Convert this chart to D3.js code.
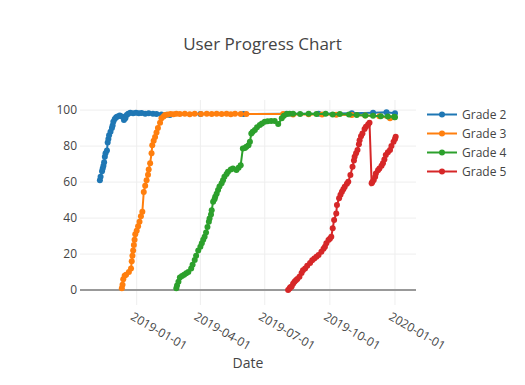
<!DOCTYPE html>
<html lang="en">
<head>
<meta charset="UTF-8">
<title>User Progress Chart</title>
<script src="https://d3js.org/d3.v7.min.js"></script>
<style>
    body {
        margin: 0;
        background-color: white;
    }

    #chart text {
        font-family: "Open Sans", verdana, arial, sans-serif;
        fill: #444;
    }
</style>
</head>
<body>
<svg id="chart" width="525" height="385"></svg>
<script>
    // values
    const grade2 = [
        ['2018-11-10', 61], ['2018-11-11', 63], ['2018-11-13', 66], ['2018-11-14', 67.5],
        ['2018-11-15', 69], ['2018-11-16', 71], ['2018-11-17', 74], ['2018-11-18', 76],
        ['2018-11-20', 77.5], ['2018-11-21', 82], ['2018-11-22', 84], ['2018-11-23', 86],
        ['2018-11-25', 88], ['2018-11-27', 90], ['2018-11-28', 91.5], ['2018-11-29', 93.5],
        ['2018-12-01', 95], ['2018-12-03', 96], ['2018-12-05', 96.5], ['2018-12-08', 97],
        ['2018-12-11', 96.5], ['2018-12-14', 94.5], ['2018-12-16', 95.5], ['2018-12-18', 97.2],
        ['2018-12-20', 98], ['2018-12-23', 98.5], ['2018-12-27', 98.3], ['2018-12-31', 98.5],
        ['2019-01-04', 98.2], ['2019-01-08', 98.4], ['2019-01-13', 98], ['2019-01-18', 98.2],
        ['2019-01-24', 97.9], ['2019-01-29', 97.8], ['2019-02-05', 97.6], ['2019-02-12', 97.4],
        ['2019-02-17', 97.2], ['2019-04-01', 97.8], ['2019-06-01', 97.8], ['2019-08-01', 98],
        ['2019-09-15', 98], ['2019-11-01', 98.2], ['2019-12-01', 98.5], ['2019-12-20', 98.8],
        ['2020-01-01', 98.3]
    ];

    const grade3 = [
        ['2018-12-11', 1], ['2018-12-12', 3], ['2018-12-13', 6], ['2018-12-15', 8],
        ['2018-12-17', 8.5], ['2018-12-21', 10], ['2018-12-24', 12], ['2018-12-25', 16],
        ['2018-12-26', 19], ['2018-12-27', 22], ['2018-12-28', 25], ['2018-12-29', 28],
        ['2018-12-30', 31], ['2019-01-01', 33], ['2019-01-03', 35.5], ['2019-01-05', 38],
        ['2019-01-07', 41], ['2019-01-09', 43.5], ['2019-01-11', 54.5], ['2019-01-13', 58],
        ['2019-01-15', 61], ['2019-01-17', 64], ['2019-01-18', 67], ['2019-01-20', 70.5],
        ['2019-01-22', 76], ['2019-01-23', 80.5], ['2019-01-25', 83], ['2019-01-27', 85],
        ['2019-01-29', 87.5], ['2019-01-31', 90], ['2019-02-03', 93], ['2019-02-05', 95.5],
        ['2019-02-08', 96.5], ['2019-02-10', 97.2], ['2019-02-14', 97.6], ['2019-02-18', 97.8],
        ['2019-02-22', 97.7], ['2019-02-26', 98], ['2019-03-03', 97.8], ['2019-03-10', 98],
        ['2019-03-17', 97.7], ['2019-03-24', 98], ['2019-04-02', 97.8], ['2019-04-10', 98],
        ['2019-04-17', 97.8], ['2019-04-24', 98], ['2019-05-01', 97.8], ['2019-05-08', 98],
        ['2019-05-14', 97.7], ['2019-05-20', 98], ['2019-05-28', 97.8], ['2019-06-05', 97.8],
        ['2019-07-27', 97.8], ['2019-08-10', 97.6], ['2019-09-01', 97.7], ['2019-09-20', 97.5],
        ['2019-10-10', 97.4], ['2019-11-01', 97.2], ['2019-11-20', 97], ['2019-12-10', 96.6],
        ['2019-12-25', 95.5], ['2019-12-31', 96]
    ];

    const grade4 = [
        ['2019-02-26', 1], ['2019-02-27', 2.5], ['2019-03-01', 4.6], ['2019-03-03', 7],
        ['2019-03-06', 7.8], ['2019-03-09', 8.5], ['2019-03-12', 9.3], ['2019-03-15', 10],
        ['2019-03-19', 12], ['2019-03-21', 14], ['2019-03-24', 16.7], ['2019-03-26', 19],
        ['2019-03-29', 22], ['2019-04-01', 24], ['2019-04-03', 26], ['2019-04-05', 28],
        ['2019-04-07', 29.6], ['2019-04-09', 32], ['2019-04-11', 35], ['2019-04-13', 38],
        ['2019-04-14', 39.8], ['2019-04-16', 42], ['2019-04-17', 44.4], ['2019-04-19', 49],
        ['2019-04-21', 50.5], ['2019-04-22', 51.8], ['2019-04-24', 53.5], ['2019-04-26', 55.6],
        ['2019-04-28', 57.5], ['2019-05-01', 59.3], ['2019-05-03', 61], ['2019-05-05', 63],
        ['2019-05-08', 64.5], ['2019-05-10', 65.7], ['2019-05-14', 67], ['2019-05-17', 67.6],
        ['2019-05-22', 66.7], ['2019-05-25', 68], ['2019-05-28', 69.4], ['2019-05-31', 78.7],
        ['2019-06-03', 79], ['2019-06-05', 79.6], ['2019-06-08', 80.5], ['2019-06-10', 82.4],
        ['2019-06-12', 87], ['2019-06-14', 88], ['2019-06-17', 88.9], ['2019-06-20', 90.5],
        ['2019-06-24', 91.7], ['2019-06-27', 92.5], ['2019-07-01', 93.5], ['2019-07-05', 93.8],
        ['2019-07-10', 94], ['2019-07-15', 94], ['2019-07-20', 92.2], ['2019-07-25', 95.4],
        ['2019-07-28', 96.8], ['2019-08-01', 97.8], ['2019-08-05', 98], ['2019-08-10', 98],
        ['2019-08-20', 97.8], ['2019-09-01', 98], ['2019-09-12', 97.8], ['2019-09-25', 97.9],
        ['2019-10-05', 97.6], ['2019-10-15', 97.8], ['2019-10-28', 97.5], ['2019-11-08', 97.3],
        ['2019-11-20', 97], ['2019-12-01', 96.8], ['2019-12-12', 96.6], ['2019-12-22', 96.5],
        ['2019-12-31', 96.3], ['2020-01-01', 96]
    ];

    const grade5 = [
        ['2019-08-03', 0], ['2019-08-05', 0.8], ['2019-08-06', 1.5], ['2019-08-08', 2],
        ['2019-08-10', 3.5], ['2019-08-12', 4.6], ['2019-08-14', 5.5], ['2019-08-16', 6.2],
        ['2019-08-19', 7.4], ['2019-08-22', 9.5], ['2019-08-24', 11], ['2019-08-27', 12],
        ['2019-08-30', 13.5], ['2019-09-03', 15], ['2019-09-06', 16.5], ['2019-09-09', 17.5],
        ['2019-09-12', 18.5], ['2019-09-15', 19.5], ['2019-09-19', 21.3], ['2019-09-22', 23],
        ['2019-09-24', 24], ['2019-09-26', 26], ['2019-09-29', 27.8], ['2019-10-01', 28.5],
        ['2019-10-03', 29.6], ['2019-10-05', 34.3], ['2019-10-07', 38.9], ['2019-10-10', 42.6],
        ['2019-10-11', 47.2], ['2019-10-14', 51], ['2019-10-16', 53], ['2019-10-18', 54.6],
        ['2019-10-20', 56], ['2019-10-22', 57.4], ['2019-10-25', 59], ['2019-10-27', 60.2],
        ['2019-10-30', 63.9], ['2019-11-02', 68.5], ['2019-11-04', 72], ['2019-11-05', 74],
        ['2019-11-07', 76], ['2019-11-09', 77.8], ['2019-11-11', 81], ['2019-11-12', 83.3],
        ['2019-11-14', 85.5], ['2019-11-16', 87], ['2019-11-19', 89.5], ['2019-11-21', 90.7],
        ['2019-11-24', 92], ['2019-11-26', 93], ['2019-11-29', 59.3], ['2019-11-30', 60],
        ['2019-12-02', 61.1], ['2019-12-04', 63], ['2019-12-05', 64.8], ['2019-12-08', 66.5],
        ['2019-12-10', 67.6], ['2019-12-13', 69], ['2019-12-15', 70.4], ['2019-12-17', 72.5],
        ['2019-12-19', 75], ['2019-12-22', 76.5], ['2019-12-25', 77.8], ['2019-12-27', 80],
        ['2019-12-30', 82.4], ['2020-01-01', 84], ['2020-01-02', 85.2]
    ];

    const seriesNames = ['Grade 2', 'Grade 3', 'Grade 4', 'Grade 5'];
    const colors = ['#1f77b4', '#ff7f0e', '#2ca02c', '#d62728'];
    const yTicks = [0, 20, 40, 60, 80, 100];
    const xDomain = ['2018-10-12T21:36:00Z', '2020-01-30T16:48:00Z'];
    const yDomain = [-8.3, 105.6];

    const plot = { left: 80, right: 416, top: 100, bottom: 305 };
    const svg = d3.select('#chart');
    const parseDate = d3.utcParse('%Y-%m-%d');

    const x = d3.scaleUtc()
        .domain(xDomain.map(d => new Date(d)))
        .range([plot.left, plot.right]);
    const y = d3.scaleLinear()
        .domain(yDomain)
        .range([plot.bottom, plot.top]);

    svg.append('rect')
        .attr('width', 525)
        .attr('height', 385)
        .attr('fill', 'white');

    // grid
    const xTicks = x.ticks(d3.utcMonth.every(3));
    svg.append('g').selectAll('line')
        .data(xTicks)
        .enter()
        .append('line')
        .attr('x1', d => x(d))
        .attr('x2', d => x(d))
        .attr('y1', plot.top)
        .attr('y2', plot.bottom)
        .attr('stroke', '#eee')
        .attr('stroke-width', 1);

    svg.append('g').selectAll('line')
        .data(yTicks.filter(d => d != 0))
        .enter()
        .append('line')
        .attr('x1', plot.left)
        .attr('x2', plot.right)
        .attr('y1', d => y(d))
        .attr('y2', d => y(d))
        .attr('stroke', '#eee')
        .attr('stroke-width', 1);

    svg.append('line')
        .attr('x1', plot.left)
        .attr('x2', plot.right)
        .attr('y1', Math.round(y(0)))
        .attr('y2', Math.round(y(0)))
        .attr('stroke', '#999')
        .attr('stroke-width', 2);

    // axis labels
    svg.append('g').selectAll('text')
        .data(yTicks)
        .enter()
        .append('text')
        .attr('x', plot.left - 3)
        .attr('y', d => y(d))
        .attr('dy', '0.35em')
        .attr('text-anchor', 'end')
        .style('font-size', '12px')
        .text(d => d);

    const formatDate = d3.utcFormat('%Y-%m-%d');
    svg.append('g').selectAll('text')
        .data(xTicks)
        .enter()
        .append('text')
        .attr('transform', d => `translate(${x(d) - 7},${319}) rotate(30)`)
        .attr('text-anchor', 'start')
        .style('font-size', '12px')
        .text(d => formatDate(d));

    svg.append('text')
        .attr('x', (plot.left + plot.right) / 2)
        .attr('y', 368)
        .attr('text-anchor', 'middle')
        .style('font-size', '14px')
        .text('Date');

    svg.append('text')
        .attr('x', 262.5)
        .attr('y', 50)
        .attr('text-anchor', 'middle')
        .style('font-size', '17px')
        .text('User Progress Chart');

    // traces
    const allSeries = [grade2, grade3, grade4, grade5];
    const line = d3.line()
        .x(d => x(parseDate(d[0])))
        .y(d => y(d[1]));

    allSeries.forEach((series, i) => {
        const g = svg.append('g');
        g.append('path')
            .datum(series)
            .attr('d', line)
            .attr('fill', 'none')
            .attr('stroke', colors[i])
            .attr('stroke-width', 2);
        g.selectAll('circle')
            .data(series)
            .enter()
            .append('circle')
            .attr('cx', d => x(parseDate(d[0])))
            .attr('cy', d => y(d[1]))
            .attr('r', 3)
            .attr('fill', colors[i]);
    });

    // legend
    const legend = svg.append('g').selectAll('g')
        .data(seriesNames)
        .enter()
        .append('g')
        .attr('transform', (d, i) => `translate(427,${114.5 + i * 19})`);
    legend.append('line')
        .attr('x1', 0)
        .attr('x2', 30)
        .attr('stroke', (d, i) => colors[i])
        .attr('stroke-width', 2);
    legend.append('circle')
        .attr('cx', 15)
        .attr('r', 3)
        .attr('fill', (d, i) => colors[i]);
    legend.append('text')
        .attr('x', 35)
        .attr('dy', '0.35em')
        .style('font-size', '12px')
        .text(d => d);
</script>
</body>
</html>
